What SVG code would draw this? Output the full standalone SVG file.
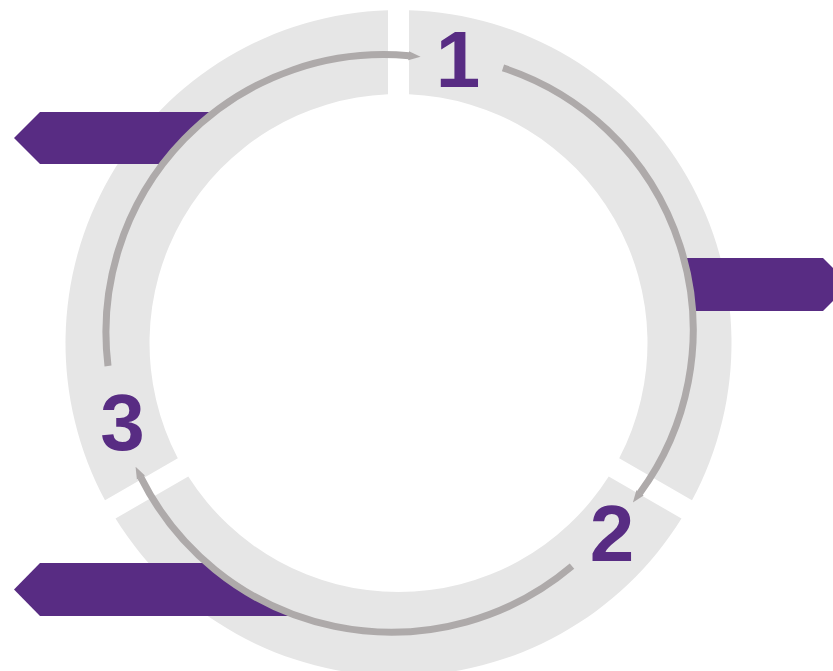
<svg xmlns="http://www.w3.org/2000/svg" width="833" height="671" viewBox="0 0 833 671">
  <style>
    .seg { fill: #e6e6e6; }
    .tab { fill: #582c83; }
    .arc { fill: none; stroke: #aeaaaa; stroke-width: 7; marker-end: url(#head); }
    .num { font-family: "Liberation Sans", Arial, sans-serif; font-weight: bold; font-size: 80px; fill: #582c83; text-anchor: middle; }
  </style>
  <defs>
    <marker id="head" markerUnits="userSpaceOnUse" viewBox="0 0 12 10" markerWidth="12" markerHeight="10" refX="0.5" refY="5" orient="auto">
      <polygon points="0,0.5 12,5 0,9.5" fill="#aeaaaa"/>
    </marker>
    <clipPath id="clipA1">
      <path clip-rule="evenodd" d="M0,0 H833 V671 H0 Z M141.8,330 a275.7,275.7 0 1 0 551.4,0 a275.7,275.7 0 1 0 -551.4,0 Z"/>
    </clipPath>
    <clipPath id="clipA2">
      <path clip-rule="evenodd" d="M0,0 H833 V671 H0 Z M111.3,352.2 a280,280 0 1 0 560,0 a280,280 0 1 0 -560,0 Z"/>
    </clipPath>
    <clipPath id="clipA3">
      <path clip-rule="evenodd" d="M0,0 H833 V671 H0 Z M105.9,332.3 a277.7,277.7 0 1 0 555.4,0 a277.7,277.7 0 1 0 -555.4,0 Z"/>
    </clipPath>
  </defs>

  <g id="segment-1">
    <path class="seg" d="M409,10.17 A333,333 0 0 1 691.99,500.33 L619.2,458.28 A249,249 0 0 0 409,94.22 Z"/>
  </g>
  <g id="segment-2">
    <path class="seg" d="M681.49,518.51 A333,333 0 0 1 115.51,518.51 L188.28,476.48 A249,249 0 0 0 608.72,476.48 Z"/>
  </g>
  <g id="segment-3">
    <path class="seg" d="M105.01,500.33 A333,333 0 0 1 388,10.17 L388,94.22 A249,249 0 0 0 177.8,458.28 Z"/>
  </g>

  <g id="tab-1">
    <path class="tab" clip-path="url(#clipA3)" d="M14,138 L40,112 L260,112 L260,164 L40,164 Z"/>
  </g>
  <g id="tab-2">
    <path class="tab" clip-path="url(#clipA1)" d="M650,258 L823,258 L849.5,284.5 L823,311 L650,311 Z"/>
  </g>
  <g id="tab-3">
    <path class="tab" clip-path="url(#clipA2)" d="M14,589.5 L40,563 L340,563 L340,616 L40,616 Z"/>
  </g>

  <g id="connectors">
    <path class="arc" d="M503,67.9 A275.7,275.7 0 0 1 639.7,493.2"/>
    <path class="arc" d="M572,566.1 A280,280 0 0 1 140.7,477.1"/>
    <path class="arc" d="M108,366 A277.7,277.7 0 0 1 409.1,55.8"/>
  </g>

  <g id="label-1"><text class="num" x="458" y="87">1</text></g>
  <g id="label-2"><text class="num" x="612" y="561">2</text></g>
  <g id="label-3"><text class="num" x="122.5" y="450">3</text></g>
</svg>
